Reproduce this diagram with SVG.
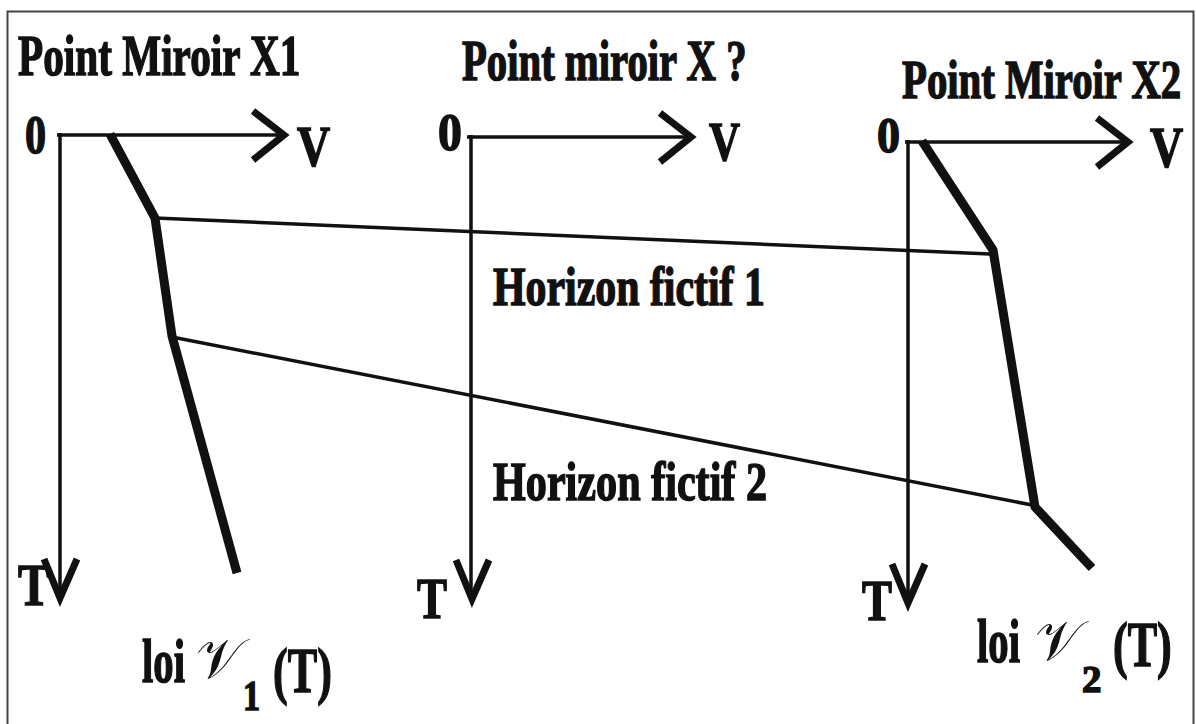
<svg xmlns="http://www.w3.org/2000/svg" xmlns:xlink="http://www.w3.org/1999/xlink" width="1196" height="724" viewBox="0 0 1196 724">
<style>
.t{font-family:"Liberation Serif","Times New Roman",serif;font-weight:bold;fill:#111;stroke:#111;stroke-width:1.5}
.ax{stroke:#111;stroke-width:3.5;fill:none}
.hz{stroke:#111;stroke-width:3.5;fill:none}
.law{stroke:#111;stroke-width:9;fill:none;stroke-linejoin:round;stroke-linecap:butt}
.ch{fill:none;stroke:#111;stroke-width:7;stroke-linejoin:miter;stroke-miterlimit:10;stroke-linecap:butt}
.sc{font-family:"DejaVu Serif","Noto Sans","DejaVu Sans",serif;font-weight:normal;fill:#111}
</style>
<defs>
<path id="chevH" d="M-37,-24 L-6,0 L-37,25"/>
<path id="chevV" d="M-16,-48 L0,-9 L17,-48"/>
</defs>
<rect x="0" y="0" width="1196" height="724" fill="#fff"/>
<rect x="7.5" y="11.5" width="1186" height="730" fill="none" stroke="#444" stroke-width="2"/>

<g id="connectors">
<line class="hz" x1="155" y1="218" x2="990" y2="254"/>
<line class="hz" x1="172" y1="337" x2="1032" y2="505"/>
</g>

<g id="axis1">
<line class="ax" x1="57" y1="135" x2="284" y2="135"/>
<line class="ax" x1="60" y1="133" x2="60" y2="598"/>
<use xlink:href="#chevH" class="ch" transform="translate(290,135)"/>
<use xlink:href="#chevV" class="ch" transform="translate(60,607)"/>
<text class="t" font-size="54" transform="translate(25,153) scale(0.78,1)">0</text>
<text class="t" font-size="56" transform="translate(297,166) scale(0.82,1)">V</text>
<text class="t" font-size="60" transform="translate(18,605) scale(0.8,1)">T</text>
<text class="t" font-size="58" transform="translate(18,75) scale(0.711,1)">Point Miroir X1</text>
</g>

<g id="axis2">
<line class="ax" x1="467" y1="137" x2="691" y2="137"/>
<line class="ax" x1="471" y1="135" x2="471" y2="598"/>
<use xlink:href="#chevH" class="ch" transform="translate(697,137)"/>
<use xlink:href="#chevV" class="ch" transform="translate(472,608)"/>
<text class="t" font-size="52" transform="translate(438,150) scale(0.92,1)">0</text>
<text class="t" font-size="54" transform="translate(709,160) scale(0.795,1)">V</text>
<text class="t" font-size="58" transform="translate(417,618) scale(0.775,1)">T</text>
<text class="t" font-size="56" transform="translate(462,80) scale(0.727,1)">Point miroir X ?</text>
</g>

<g id="axis3">
<line class="ax" x1="905" y1="142" x2="1128" y2="142"/>
<line class="ax" x1="908" y1="140" x2="908" y2="603"/>
<use xlink:href="#chevH" class="ch" transform="translate(1134,142)"/>
<use xlink:href="#chevV" class="ch" transform="translate(908,612)"/>
<text class="t" font-size="50" transform="translate(877,152) scale(0.92,1)">0</text>
<text class="t" font-size="56" transform="translate(1150,167) scale(0.82,1)">V</text>
<text class="t" font-size="58" transform="translate(862,620) scale(0.775,1)">T</text>
<text class="t" font-size="54" transform="translate(902,98) scale(0.755,1)">Point Miroir X2</text>
</g>

<g id="law1">
<polyline class="law" points="110,134 155,218 172,336 237,573"/>
<text class="t" font-size="62" transform="translate(142,682) scale(0.657,1)">loi</text>
<text class="sc" x="196" y="678" font-size="56">𝒱</text>
<text class="t" font-size="42" transform="translate(243,710) scale(0.81,1)">1</text>
<text class="t" font-size="64" transform="translate(273,692) scale(0.69,1)">(T)</text>
</g>

<g id="law2">
<polyline class="law" points="922,141 993,250 1035,507 1092,568"/>
<text class="t" font-size="62" transform="translate(977,662) scale(0.657,1)">loi</text>
<text class="sc" x="1035" y="660" font-size="56">𝒱</text>
<text class="t" font-size="37" transform="translate(1082,692) scale(1.05,1)">2</text>
<text class="t" font-size="63" transform="translate(1113,666) scale(0.70,1)">(T)</text>
</g>

<g id="horizon1">
<text class="t" font-size="55" transform="translate(493,305) scale(0.761,1)">Horizon fictif 1</text>
</g>
<g id="horizon2">
<text class="t" font-size="55" transform="translate(493,500) scale(0.767,1)">Horizon fictif 2</text>
</g>
</svg>
